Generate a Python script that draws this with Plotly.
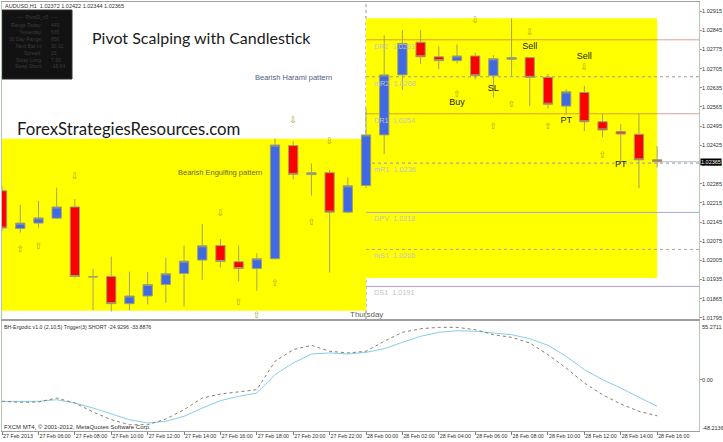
import pandas as pd
import plotly.graph_objects as go
from plotly.subplots import make_subplots

W, H = 723, 442
ML, MR, MT, MB = 2, 24, 2, 11
PW, PH = W - ML - MR, H - MT - MB

# ---------------- data ----------------
times = pd.date_range("2013-02-27 04:00", periods=37, freq="h")

opens = [1.02259, 1.02121, 1.02141, 1.02159, 1.02200, 1.01945, 1.01946, 1.01847, 1.01875, 1.01917,
         1.01957, 1.02006, 1.02059, 1.02000, 1.01975, 1.02011, 1.02424, 1.02318, 1.02325, 1.02181,
         1.02278, 1.02463, 1.02682, 1.02801, 1.02748, 1.02734, 1.02751, 1.02679, 1.02739, 1.02745,
         1.02673, 1.02568, 1.02618, 1.02511, 1.02475, 1.02465, 1.02372]
highs = [1.02277, 1.02207, 1.02222, 1.02270, 1.02229, 1.01974, 1.02019, 1.01964, 1.01962, 1.02015,
         1.02059, 1.02138, 1.02083, 1.02059, 1.02031, 1.02450, 1.02440, 1.02359, 1.02335, 1.02308,
         1.02561, 1.02827, 1.02846, 1.02846, 1.02787, 1.02794, 1.02763, 1.02754, 1.02888, 1.02748,
         1.02685, 1.02630, 1.02642, 1.02539, 1.02503, 1.02539, 1.02422]
lows = [1.02112, 1.02106, 1.02124, 1.02156, 1.01942, 1.01824, 1.01818, 1.01822, 1.01844, 1.01850,
        1.01836, 1.01934, 1.01979, 1.01928, 1.01895, 1.02008, 1.02301, 1.02241, 1.01960, 1.02177,
        1.02269, 1.02393, 1.02627, 1.02722, 1.02703, 1.02724, 1.02666, 1.02599, 1.02678, 1.02568,
        1.02559, 1.02536, 1.02477, 1.02454, 1.02359, 1.02268, 1.02344]
closes = [1.02123, 1.02141, 1.02160, 1.02200, 1.01946, 1.01945, 1.01847, 1.01875, 1.01917, 1.01956,
          1.02002, 1.02058, 1.02001, 1.01975, 1.02011, 1.02426, 1.02319, 1.02325, 1.02181, 1.02277,
          1.02463, 1.02682, 1.02797, 1.02748, 1.02734, 1.02751, 1.02679, 1.02741, 1.02745, 1.02673,
          1.02575, 1.02620, 1.02511, 1.02481, 1.02466, 1.02372, 1.02365]

ergodic = [-20.3, -20.6, -20.3, -18.8, -21.9, -26.6, -32.2, -37.6, -40.7, -39.1, -34.4, -26.6, -19.7,
           -15.6, -12.5, 4.8, 15.8, 24.2, 25.2, 24.2, 25.8, 29.2, 35.2, 40.9, 44.6, 46.1, 45.6, 44.0,
           42.4, 38.6, 32.4, 22.1, 9.5, 0.1, -7.8, -16.5, -24.93]
trigger = [-20.3, -21.2, -20.9, -17.2, -21.9, -30.3, -37.6, -42.3, -42.3, -37.0, -28.2, -17.2, -13.4,
           -11.5, -9.4, 17.4, 28.3, 32.4, 26.8, 25.2, 26.8, 36.2, 44.6, 48.0, 49.3, 49.3, 47.1, 42.4,
           39.9, 34.6, 23.6, 11.0, -3.1, -14.1, -22.8, -29.7, -33.89]

price_ticks = [1.02915, 1.02845, 1.02775, 1.02705, 1.02635, 1.02565, 1.02495, 1.02425, 1.02355,
               1.02285, 1.02215, 1.02145, 1.02075, 1.02005, 1.01935, 1.01865, 1.01795]
tick_times = ["2013-02-27 04:00", "2013-02-27 06:00", "2013-02-27 08:00", "2013-02-27 10:00",
              "2013-02-27 12:00", "2013-02-27 14:00", "2013-02-27 16:00", "2013-02-27 18:00",
              "2013-02-27 20:00", "2013-02-27 22:00", "2013-02-28 00:00", "2013-02-28 02:00",
              "2013-02-28 04:00", "2013-02-28 06:00", "2013-02-28 08:00", "2013-02-28 10:00",
              "2013-02-28 12:00", "2013-02-28 14:00", "2013-02-28 16:00"]
tick_labels = ["27 Feb 2013", "27 Feb 06:00", "27 Feb 08:00", "27 Feb 10:00", "27 Feb 12:00",
               "27 Feb 14:00", "27 Feb 16:00", "27 Feb 18:00", "27 Feb 20:00", "27 Feb 22:00",
               "28 Feb 00:00", "28 Feb 02:00", "28 Feb 04:00", "28 Feb 06:00", "28 Feb 08:00",
               "28 Feb 10:00", "28 Feb 12:00", "28 Feb 14:00", "28 Feb 16:00"]

level_names = ["DR2", "mR2", "DR1", "mR1", "DPV", "mS1", "DS1"]
level_values = [1.0281, 1.02675, 1.0254, 1.0236, 1.0218, 1.02045, 1.0191]
level_labels = ["1.0281", "1.0268", "1.0254", "1.0236", "1.0218", "1.0205", "1.0191"]
level_dash = ["solid", "dot", "solid", "dot", "solid", "dot", "solid"]
level_color = ["rgba(190,80,80,0.55)", "#a09a8a", "rgba(190,80,80,0.55)", "#8898c8",
               "#a8a8e0", "#b8a0a0", "#b0a0c8"]

day_boxes = [("2013-02-26 20:00", "2013-02-28 00:00", 1.01821, 1.02449),
             ("2013-02-28 00:00", "2013-02-28 16:00", 1.01941, 1.02889)]

down_arrow_bars = [4, 12, 16, 18, 26, 29, 32]
down_arrow_prices = [1.02309, 1.02174, 1.02514, 1.02437, 1.02879, 1.02835, 1.02707]
up_arrow_bars = [1, 2, 13, 14, 15, 17, 25, 27, 28, 30, 33]
up_arrow_prices = [1.02043, 1.02054, 1.01850, 1.01802, 1.01919, 1.02142, 1.02609, 1.02492,
                   1.02572, 1.02492, 1.02386]

signal_texts = ["Buy", "SL", "Sell", "Sell", "PT", "PT"]
signal_bars = [25, 27, 29, 32, 31, 34]
signal_prices = [1.02582, 1.02630, 1.02783, 1.02748, 1.02515, 1.02353]

info_rows = [("Range Today:", "449"), ("Yesterday:", "635"), ("30 Day Range:", "856"),
             ("Next Bar In:", "30:32"), ("Spread:", "15"), ("Swap Long:", "7.90"),
             ("Swap Short:", "-16.64")]

last_price = 1.02365
WICK = "#a0a070"
FONT = "Liberation Sans, Arial, sans-serif"
NARROW = "Liberation Sans Narrow, Arial Narrow, Liberation Sans, sans-serif"


def px(x):
    return (x - ML) / PW


def py(y):
    return 1 - (y - MT) / PH


fig = make_subplots(rows=2, cols=1, shared_xaxes=True)

fig.add_trace(go.Candlestick(
    x=times, open=opens, high=highs, low=lows, close=closes,
    increasing=dict(fillcolor="#4169E1", line=dict(color=WICK, width=1)),
    decreasing=dict(fillcolor="#FF0000", line=dict(color=WICK, width=1)),
    whiskerwidth=0, showlegend=False, hoverinfo="skip"), row=1, col=1)

fig.add_trace(go.Scatter(
    x=[times[i] for i in down_arrow_bars], y=down_arrow_prices, mode="text",
    text=["\u21e9"] * len(down_arrow_bars),
    textfont=dict(size=9, color="#b09a20", family="DejaVu Sans"),
    showlegend=False, hoverinfo="skip"), row=1, col=1)
fig.add_trace(go.Scatter(
    x=[times[i] for i in up_arrow_bars], y=up_arrow_prices, mode="text",
    text=["\u21e7"] * len(up_arrow_bars),
    textfont=dict(size=9, color="#b09a20", family="DejaVu Sans"),
    showlegend=False, hoverinfo="skip"), row=1, col=1)
fig.add_trace(go.Scatter(
    x=[times[i] for i in signal_bars], y=signal_prices, mode="text", text=signal_texts,
    textfont=dict(size=9, color="#202020", family=FONT),
    showlegend=False, hoverinfo="skip"), row=1, col=1)

fig.add_trace(go.Scatter(x=times, y=ergodic, mode="lines",
                         line=dict(color="#87CEEB", width=1),
                         showlegend=False, hoverinfo="skip"), row=2, col=1)
fig.add_trace(go.Scatter(x=times, y=trigger, mode="lines",
                         line=dict(color="#8c7c6c", width=1, dash="dot"),
                         showlegend=False, hoverinfo="skip"), row=2, col=1)

shapes = []
for x0, x1, y0, y1 in day_boxes:
    shapes.append(dict(type="rect", xref="x", yref="y", x0=x0, x1=x1, y0=y0, y1=y1,
                       fillcolor="#FFFF00", line=dict(width=0), layer="below"))
# bid line
shapes.append(dict(type="line", xref="paper", yref="y", x0=0, x1=1, y0=last_price, y1=last_price,
                   line=dict(color="#c0c0c0", width=1), layer="below"))
# day separator
shapes.append(dict(type="line", xref="x", yref="y domain", x0="2013-02-28 00:00",
                   x1="2013-02-28 00:00", y0=0, y1=1,
                   line=dict(color="#909090", width=1, dash="dot"), layer="below"))
for v, d, c in zip(level_values, level_dash, level_color):
    shapes.append(dict(type="line", xref="x", yref="y", x0="2013-02-28 00:00",
                       x1="2013-02-28 20:00", y0=v, y1=v,
                       line=dict(color=c, width=1, dash=d), layer="below"))
# info box
shapes.append(dict(type="rect", xref="paper", yref="paper", x0=px(2), x1=px(72),
                   y0=py(79), y1=py(10), fillcolor="#121212",
                   line=dict(color="#303030", width=1), layer="below"))

ann = []
for n, v, lab in zip(level_names, level_values, level_labels):
    ann.append(dict(x="2013-02-28 00:00", y=v, xref="x", yref="y", text=f"{n}  {lab}",
                    xanchor="left", yanchor="top", xshift=6, yshift=0, showarrow=False,
                    font=dict(size=7.3, color="#c4c4c4", family=FONT)))

ann.append(dict(x=times[16], y=1.02671, xref="x", yref="y", text="Bearish Harami pattern",
                showarrow=False, font=dict(size=7.5, color="#4f6080", family=FONT)))
ann.append(dict(x=times[12], y=1.02325, xref="x", yref="y", text="Bearish Engulfing pattern",
                showarrow=False, font=dict(size=7.5, color="#6a6a30", family=FONT)))
ann.append(dict(x="2013-02-28 00:00", y=py(314), xref="x", yref="paper", text="Thursday",
                yanchor="middle", showarrow=False,
                font=dict(size=8, color="#606060", family=FONT)))

ann.append(dict(x=px(3), y=py(6), xref="paper", yref="paper", xanchor="left", yanchor="middle",
                text="AUDUSD,H1  1.02372 1.02422 1.02344 1.02365", showarrow=False,
                font=dict(size=5.5, color="#303030", family=FONT)))
ann.append(dict(x=px(37), y=py(16.7), xref="paper", yref="paper", xanchor="center",
                yanchor="middle", text="----  PivotD_v5  ----", showarrow=False,
                font=dict(size=5, color="#3c3c3c", family=FONT)))
for k, (lab, val) in enumerate(info_rows):
    yy = py(25 + 6.9 * k)
    ann.append(dict(x=px(44), y=yy, xref="paper", yref="paper", xanchor="right",
                    yanchor="middle", text=lab, showarrow=False,
                    font=dict(size=5, color="#3c3c3c", family=FONT)))
    ann.append(dict(x=px(49), y=yy, xref="paper", yref="paper", xanchor="left",
                    yanchor="middle", text=val, showarrow=False,
                    font=dict(size=5, color="#3c3c3c", family=FONT)))

ann.append(dict(x=px(90), y=py(37), xref="paper", yref="paper", xanchor="left",
                yanchor="middle", text="Pivot Scalping with Candlestick", showarrow=False,
                font=dict(size=16, color="#1a1a1a", family="Lato")))
ann.append(dict(x=px(15), y=py(128), xref="paper", yref="paper", xanchor="left",
                yanchor="middle", text="ForexStrategiesResources.com", showarrow=False,
                font=dict(size=16.8, color="#1a1a1a", family="Lato")))

ann.append(dict(x=px(2), y=py(327), xref="paper", yref="paper", xanchor="left",
                yanchor="middle",
                text="BH-Ergodic v1.0 (2,10,5) Trigger(3) SHORT -24.9296 -33.8876",
                showarrow=False, font=dict(size=5.3, color="#303030", family=FONT)))
ann.append(dict(x=px(2), y=py(427), xref="paper", yref="paper", xanchor="left",
                yanchor="middle",
                text="FXCM MT4, \u00a9 2001-2012, MetaQuotes Software Corp.",
                showarrow=False, font=dict(size=6, color="#303030", family=FONT)))

# axis side labels
ann.append(dict(x=1, y=last_price, xref="paper", yref="y", xanchor="left", yanchor="middle",
                xshift=1, text="1.02365", showarrow=False, bgcolor="#000000", borderpad=0,
                font=dict(size=5.5, color="#ffffff", family=NARROW)))
ann.append(dict(x=1, y=py(326.5), xref="paper", yref="paper", xanchor="left", yanchor="middle",
                xshift=1, text="55.2711", showarrow=False,
                font=dict(size=5.5, color="#303030", family=NARROW)))
ann.append(dict(x=1, y=py(427.5), xref="paper", yref="paper", xanchor="left", yanchor="middle",
                xshift=1, text="-48.2136", showarrow=False,
                font=dict(size=5.5, color="#303030", family=NARROW)))

xrange = ["2013-02-27 03:59:45", "2013-02-28 18:18:00"]
ax_common = dict(showgrid=False, zeroline=False, showline=True, mirror=True,
                 linecolor="#a0a0a0", linewidth=1, automargin=False)

fig.update_layout(
    width=W, height=H, margin=dict(l=ML, r=MR, t=MT, b=MB, autoexpand=False),
    paper_bgcolor="white", plot_bgcolor="white", showlegend=False,
    boxgap=0.27,
    shapes=shapes, annotations=ann,
    xaxis=dict(range=xrange, rangeslider=dict(visible=False), showticklabels=False,
               ticks="", domain=[0, 1], **ax_common),
    xaxis2=dict(range=xrange, tickvals=tick_times, ticktext=tick_labels, tickangle=0,
                ticklabelposition="outside right", ticks="outside", ticklen=3,
                tickcolor="#808080", tickfont=dict(size=5.3, color="#303030", family=FONT),
                domain=[0, 1], **ax_common),
    yaxis=dict(domain=[(H - MB - 319) / PH, 1], side="right",
               range=[1.01791, 1.02948], tickvals=price_ticks, tickformat=".5f",
               ticks="outside", ticklen=2, tickcolor="#909090", ticklabelstandoff=-1,
               tickfont=dict(size=5.5, color="#303030", family=NARROW),
               showgrid=False, zeroline=False, showline=True, mirror=True,
               linecolor="#b4c8b4", linewidth=1, automargin=False),
    yaxis2=dict(domain=[0, (H - MB - 321) / PH], side="right",
                range=[-48.2136, 55.2711], tickvals=[0], ticktext=["0.00"],
                ticks="outside", ticklen=2, tickcolor="#909090", ticklabelstandoff=-1,
                tickfont=dict(size=5.5, color="#303030", family=NARROW),
                showgrid=False, zeroline=False, showline=True, mirror=True,
                linecolor="#b4c8b4", linewidth=1, automargin=False),
)

fig.write_html("out.html", config={"displayModeBar": False},
               post_script="document.body.style.margin='0';")
